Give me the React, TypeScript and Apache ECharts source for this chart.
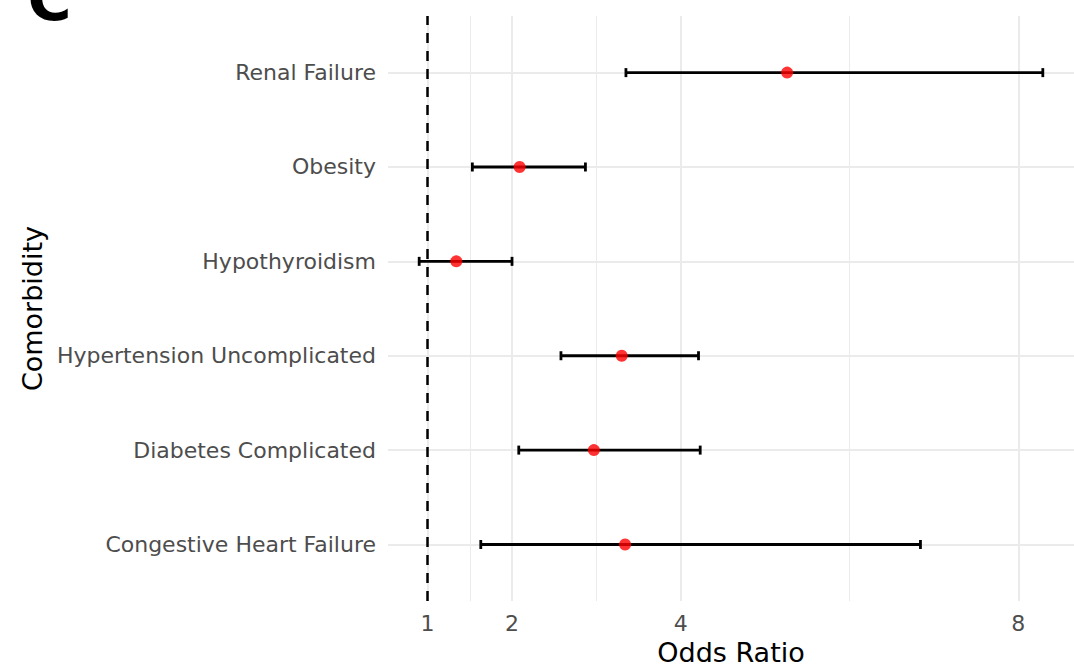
import React, { useEffect, useRef } from "react";
import * as echarts from "echarts";

// Data (bottom-to-top order, as ggplot draws discrete y)
const categories = [
  "Congestive Heart Failure",
  "Diabetes Complicated",
  "Hypertension Uncomplicated",
  "Hypothyroidism",
  "Obesity",
  "Renal Failure",
];
const oddsRatio = [3.34, 2.97, 3.3, 1.34, 2.09, 5.26];
const ciLower = [1.63, 2.08, 2.58, 0.9, 1.53, 3.35];
const ciUpper = [6.84, 4.23, 4.21, 2.0, 2.87, 8.29];
const xTicks = [1, 2, 4, 8];
const xMinorBreaks = [1.5, 3, 6];
const refLineValue = 1;
const panelLabel = "C";
const xTitle = "Odds Ratio";
const yTitle = "Comorbidity";

export default function App() {
  const ref = useRef<HTMLDivElement>(null);

  useEffect(() => {
    if (!ref.current) return;
    const chart = echarts.init(ref.current, null, { renderer: "svg" });

    const lo = Math.min(...ciLower);
    const hi = Math.max(...ciUpper);
    const pad = (hi - lo) * 0.05;
    const font = "DejaVu Sans";

    const gridLines = [
      ...categories.map((_, i) => ({ yAxis: i, lineStyle: { width: 2 } })),
      ...xTicks.map((v) => ({ xAxis: v, lineStyle: { width: 2 } })),
      ...xMinorBreaks.map((v) => ({ xAxis: v, lineStyle: { width: 1 } })),
    ];

    chart.setOption({
      animation: false,
      backgroundColor: "#ffffff",
      grid: { left: 388, top: 16, width: 698, height: 590, containLabel: false },
      xAxis: {
        type: "value",
        min: lo - pad,
        max: hi + pad,
        axisLine: { show: false },
        axisTick: { show: false },
        splitLine: { show: false },
        axisLabel: {
          customValues: xTicks,
          color: "#4D4D4D",
          fontSize: 22,
          fontFamily: font,
          margin: 11,
        },
        name: xTitle,
        nameLocation: "middle",
        nameGap: 35,
        nameTextStyle: { color: "#000", fontSize: 27, fontFamily: font },
      },
      yAxis: {
        type: "value",
        min: -0.6,
        max: categories.length - 1 + 0.6,
        axisLine: { show: false },
        axisTick: { show: false },
        splitLine: { show: false },
        axisLabel: {
          customValues: categories.map((_, i) => i),
          formatter: (v: number) => categories[Math.round(v)] ?? "",
          color: "#4D4D4D",
          fontSize: 22,
          fontFamily: font,
          margin: 12,
        },
        name: yTitle,
        nameLocation: "middle",
        nameGap: 341,
        nameTextStyle: { color: "#000", fontSize: 27, fontFamily: font },
      },
      graphic: [
        {
          type: "text",
          x: 27.5,
          y: -1,
          style: {
            text: panelLabel,
            fontSize: 60,
            fontWeight: "bold",
            fontFamily: "DejaVu Sans",
            fill: "#000",
            verticalAlign: "middle",
          },
        },
      ],
      series: [
        {
          type: "line",
          data: [],
          silent: true,
          z: 1,
          markLine: {
            silent: true,
            symbol: "none",
            z: 1,
            label: { show: false },
            emphasis: { disabled: true },
            lineStyle: { color: "#EBEBEB", type: "solid" },
            data: gridLines,
          },
        },
        {
          type: "line",
          data: [],
          silent: true,
          z: 2,
          markLine: {
            silent: true,
            symbol: "none",
            z: 2,
            label: { show: false },
            emphasis: { disabled: true },
            lineStyle: { color: "#000", width: 2.5, type: [10, 8] },
            data: [{ xAxis: refLineValue }],
          },
        },
        {
          type: "custom",
          z: 3,
          silent: true,
          encode: { x: [0, 1], y: 2 },
          data: categories.map((_, i) => [ciLower[i], ciUpper[i], i]),
          renderItem: (params: any, api: any) => {
            const y = api.value(2);
            const p0 = api.coord([api.value(0), y]);
            const p1 = api.coord([api.value(1), y]);
            const h = 4.5;
            const style = { stroke: "#000", lineWidth: 2.8 };
            return {
              type: "group",
              children: [
                { type: "line", shape: { x1: p0[0], y1: p0[1], x2: p1[0], y2: p1[1] }, style },
                { type: "line", shape: { x1: p0[0], y1: p0[1] - h, x2: p0[0], y2: p0[1] + h }, style },
                { type: "line", shape: { x1: p1[0], y1: p1[1] - h, x2: p1[0], y2: p1[1] + h }, style },
              ],
            };
          },
        },
        {
          type: "scatter",
          z: 4,
          symbol: "circle",
          symbolSize: 12,
          itemStyle: { color: "#FF0000" },
          data: categories.map((_, i) => [oddsRatio[i], i]),
        },
      ],
    });

    return () => chart.dispose();
  }, []);

  return (
    <div
      ref={ref}
      style={{ position: "fixed", left: 0, top: 0, width: 1074, height: 671 }}
    />
  );
}
